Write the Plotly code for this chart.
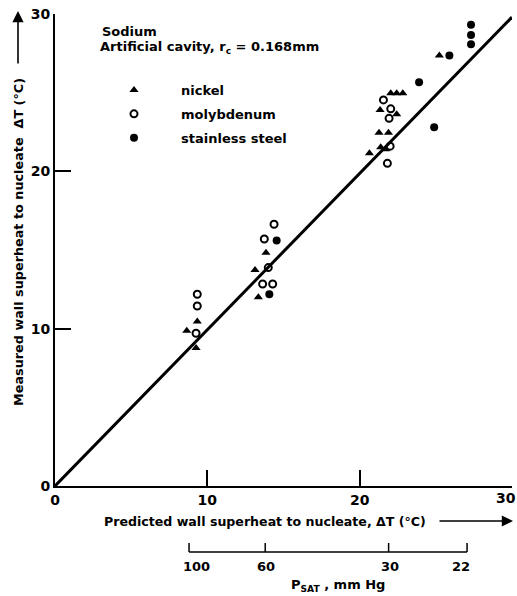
import plotly.graph_objects as go

# ---- data ----
nickel_x = [9.34, 8.65, 9.26, 13.85, 13.13, 13.35, 22.04, 22.43, 22.83, 21.34, 22.43, 21.27, 21.89, 21.38, 21.70, 20.64, 25.23]
nickel_y = [10.45, 9.87, 8.77, 14.83, 13.73, 12.00, 24.96, 24.96, 24.96, 23.90, 23.63, 22.46, 22.46, 21.53, 21.40, 21.15, 27.36]

moly_x = [9.34, 9.34, 9.26, 14.38, 13.74, 14.00, 13.63, 14.29, 21.56, 22.04, 21.93, 22.00, 21.82]
moly_y = [12.19, 11.44, 9.71, 16.64, 15.70, 13.88, 12.84, 12.84, 24.54, 23.97, 23.37, 21.60, 20.51]

steel_x = [14.55, 14.07, 23.90, 24.89, 25.89, 27.31, 27.31, 27.31]
steel_y = [15.60, 12.19, 25.66, 22.80, 27.36, 29.31, 28.67, 28.08]

fit_x = [0, 30]
fit_y = [0, 29.8]

axis_ticks = [0, 10, 20, 30]
axis_tick_text = ["0", "10", "20", "30"]
psat_labels = ["100", "60", "30", "22"]
psat_dt = [8.8, 13.8, 21.9, 27.05]   # position of each pressure on the ΔT scale

FONT = "DejaVu Sans"

fig = go.Figure()
fig.add_trace(go.Scatter(x=fit_x, y=fit_y, mode="lines", line=dict(color="black", width=3),
                         showlegend=False, hoverinfo="skip"))
fig.add_trace(go.Scatter(x=nickel_x, y=nickel_y, mode="markers", name="nickel", legendgroup="a",
                         marker=dict(symbol="triangle-up", size=8, color="black"), cliponaxis=False))
fig.add_trace(go.Scatter(x=moly_x, y=moly_y, mode="markers", name="molybdenum", legendgroup="b",
                         marker=dict(symbol="circle-open", size=7, color="black", line=dict(width=2)),
                         cliponaxis=False))
fig.add_trace(go.Scatter(x=steel_x, y=steel_y, mode="markers", name="stainless steel", legendgroup="c",
                         marker=dict(symbol="circle", size=8, color="black"), cliponaxis=False))

tick_font = dict(size=14, family=FONT, color="black", weight="bold")
axis_common = dict(range=[0, 30], tickvals=axis_ticks, showline=True, linewidth=2, linecolor="black",
                   ticks="inside", ticklen=16, tickwidth=2, tickcolor="black", showgrid=False,
                   zeroline=False, mirror=False, automargin=False, ticklabeloverflow="allow",
                   tickfont=tick_font)
# last x label sits at the page edge: it is drawn right-aligned below instead of centred
fig.update_xaxes(**axis_common, ticktext=axis_tick_text[:-1] + [""])
fig.update_yaxes(**axis_common, ticktext=axis_tick_text)

W, H = 517, 596
L, R, T, B = 55, 5, 14, 110
pw, ph = W - L - R, H - T - B


def px(xp):
    return (xp - L) / pw


def py(yp):
    return (T + ph - yp) / ph


annotations = []
annotations.append(dict(xref="x", yref="paper", x=axis_ticks[-1], y=py(488), text=axis_tick_text[-1],
                        xshift=6, showarrow=False, xanchor="right", yanchor="top", font=tick_font))
tf = dict(family=FONT, size=13, color="black", weight="bold")
annotations.append(dict(xref="paper", yref="paper", x=px(100), y=py(31), text="Sodium",
                        showarrow=False, xanchor="left", yanchor="middle", font=tf))
annotations.append(dict(xref="paper", yref="paper", x=px(98), y=py(47),
                        text="Artificial cavity, r<sub>c</sub> = 0.168mm",
                        showarrow=False, xanchor="left", yanchor="middle", font=tf))
# x title + arrow
annotations.append(dict(xref="paper", yref="paper", x=px(265), y=py(521),
                        text="Predicted wall superheat to nucleate, ΔT (°C)",
                        showarrow=False, xanchor="center", yanchor="middle",
                        font=dict(family=FONT, size=12.6, color="black", weight="bold")))
annotations.append(dict(xref="paper", yref="paper", x=px(513), y=py(521), ax=-75, ay=0, text="",
                        showarrow=True, arrowhead=2, arrowsize=1.4, arrowwidth=1.6, arrowcolor="black"))
# y title + arrow
annotations.append(dict(xref="paper", yref="paper", x=px(18), y=py(242),
                        text="Measured wall superheat to nucleate  ΔT (°C)", textangle=-90,
                        showarrow=False, xanchor="center", yanchor="middle",
                        font=dict(family=FONT, size=12.8, color="black", weight="bold")))
annotations.append(dict(xref="paper", yref="paper", x=px(18), y=py(11), ax=0, ay=54, text="",
                        showarrow=True, arrowhead=2, arrowsize=1.4, arrowwidth=1.6, arrowcolor="black"))

# P_SAT secondary scale
shapes = [dict(type="line", xref="x", yref="paper", x0=psat_dt[0], x1=psat_dt[-1],
               y0=py(552), y1=py(552), line=dict(color="black", width=1.5))]
for i, (lab, pos) in enumerate(zip(psat_labels, psat_dt)):
    shapes.append(dict(type="line", xref="x", yref="paper", x0=pos, x1=pos, y0=py(552), y1=py(543),
                       line=dict(color="black", width=1.5)))
    shift = 7 if i == 0 else (-6 if i == len(psat_labels) - 1 else 1)
    annotations.append(dict(xref="x", yref="paper", x=pos, y=py(566), text=lab, xshift=shift,
                            showarrow=False, xanchor="center", yanchor="middle",
                            font=dict(family=FONT, size=13, color="black", weight="bold")))
annotations.append(dict(xref="paper", yref="paper", x=px(338), y=py(585), text="P<sub>SAT</sub> , mm Hg",
                        showarrow=False, xanchor="center", yanchor="middle", font=tf))

fig.update_layout(
    template="none",
    width=W, height=H, margin=dict(l=L, r=R, t=T, b=B),
    plot_bgcolor="white", paper_bgcolor="white",
    font=dict(family=FONT, color="black"),
    annotations=annotations, shapes=shapes,
    legend=dict(x=px(87), y=py(75), xanchor="left", yanchor="top", itemwidth=84,
                font=dict(family=FONT, size=13, color="black", weight="bold"),
                tracegroupgap=4, bgcolor="rgba(0,0,0,0)", borderwidth=0),
)

# remove the browser's default page margin so the 517x596 figure fills the window exactly
fig.write_html("out.html", config={"displayModeBar": False},
               post_script="document.body.style.margin='0';document.body.style.overflow='hidden';")
